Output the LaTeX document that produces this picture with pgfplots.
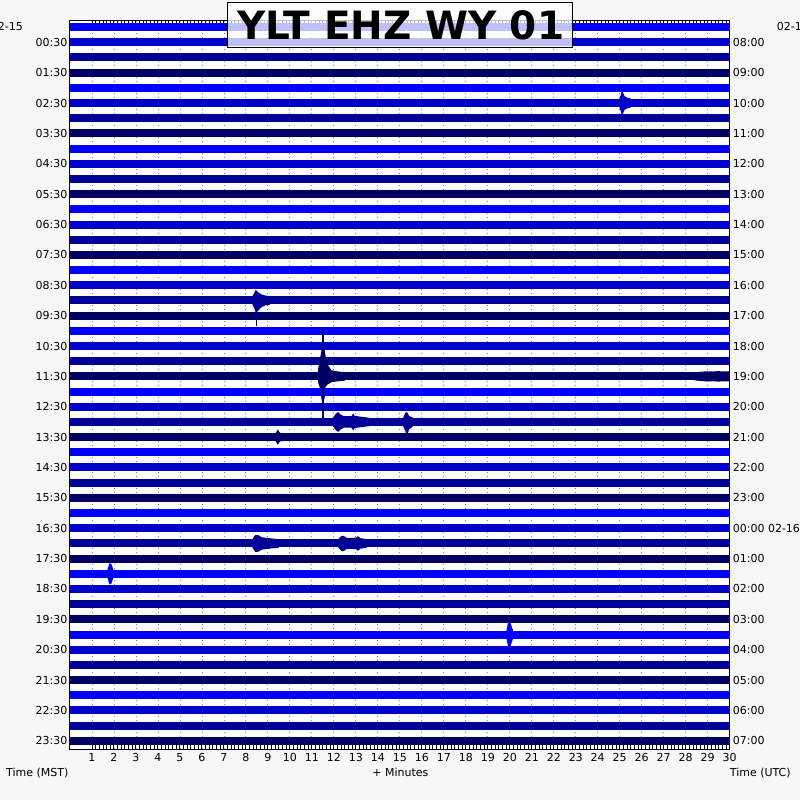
\documentclass[border=0pt]{standalone}
\usepackage{pgfplots}
\pgfplotsset{compat=1.18}
\usetikzlibrary{backgrounds}
\usepackage{fontspec}
\setmainfont{DejaVu Sans}
\definecolor{tc0}{RGB}{0,0,250}
\definecolor{tc1}{RGB}{0,0,205}
\definecolor{tc2}{RGB}{0,0,150}
\definecolor{tc3}{RGB}{0,0,100}
\definecolor{bgc}{RGB}{247,247,247}
\definecolor{gridc}{RGB}{130,130,130}
\newcommand{\lab}{\fontsize{11}{13}\selectfont}
\begin{document}
\begin{tikzpicture}[x=1pt,y=1pt]
\begin{axis}[
  width=660pt, height=729.3pt, scale only axis,
  xmin=0, xmax=30, ymin=-0.42, ymax=47.58, y dir=reverse,
  axis background/.style={fill=white},
  axis line style={black, line width=1pt},
  xtick={1,...,30}, minor x tick num=5,
  xtick pos=both, xticklabel pos=bottom,
  major tick length=4.5pt, minor tick length=4.5pt,
  every tick/.style={black, line width=0.9pt},
  xmajorgrids, major x grid style={gridc, dash pattern=on 1pt off 3pt, line width=0.8pt},
  ytick=\empty,
  minor ytick={0.5,1.5,...,46.5}, yminorgrids,
  minor y grid style={gridc, dash pattern=on 1pt off 3pt, line width=0.8pt},
  minor y tick style={draw=none},
  tick label style={font=\lab},
  /pgf/number format/assume math mode=true,
  clip=false,
  no markers,
  cycle list={{tc0,line width=8pt},{tc1,line width=8pt},{tc2,line width=8pt},{tc3,line width=8pt}},
]
\pgfplotsinvokeforeach{0,...,47}{\addplot coordinates {(0,#1) (30,#1)};}

% trace 5 event
\addplot[fill=tc1,draw=none] coordinates {(24.98,4.72) (25.05,4.45) (25.1,4.15) (25.15,4.3) (25.22,4.55) (25.35,4.66) (25.5,4.7) (25.5,5.3) (25.35,5.34) (25.22,5.45) (25.15,5.7) (25.1,5.85) (25.05,5.55) (24.98,5.28)} -- cycle;
% trace 18 event
\addplot[fill=tc2,draw=none] coordinates {(8.3,17.72) (8.38,17.5) (8.45,17.3) (8.55,17.45) (8.7,17.6) (8.9,17.68) (9.1,17.72) (9.1,18.28) (8.9,18.32) (8.7,18.45) (8.55,18.7) (8.45,18.8) (8.38,18.5) (8.3,18.28)} -- cycle;
\addplot[tc2,line width=1.5pt] coordinates {(8.48,18) (8.48,19.7)};
% trace 24 spike
\addplot[fill=tc0,draw=none] coordinates {(11.38,24.0) (11.45,23.45) (11.55,23.45) (11.65,24.0) (11.55,24.6) (11.45,24.6)} -- cycle;
% trace 23 big event
\addplot[fill=tc3,draw=none] coordinates {(11.5,20.7) (11.42,21.45) (11.33,22.1) (11.28,22.6) (11.26,23.0) (11.3,23.5) (11.38,23.8) (11.55,23.85) (11.7,23.55) (11.9,23.38) (12.2,23.32) (12.5,23.28) (12.5,22.72) (12.2,22.68) (11.9,22.6) (11.75,22.3) (11.63,21.7) (11.56,21.1)} -- cycle;
\addplot[tc3,line width=1.8pt] coordinates {(11.5,19.8) (11.5,25.85)};
\addplot[fill=tc3,draw=none] coordinates {(28.4,22.74) (28.8,22.68) (29.5,22.66) (30,22.68) (30,23.32) (29.5,23.34) (28.8,23.32) (28.4,23.26)} -- cycle;
% trace 26 events
\addplot[fill=tc2,draw=none] coordinates {(11.95,25.72) (12.1,25.45) (12.2,25.35) (12.3,25.5) (12.45,25.62) (12.8,25.62) (12.88,25.45) (12.95,25.6) (13.2,25.65) (13.6,25.72) (13.6,26.28) (13.2,26.35) (12.95,26.4) (12.88,26.55) (12.8,26.38) (12.45,26.38) (12.3,26.5) (12.2,26.65) (12.1,26.55) (11.95,26.28)} -- cycle;
\addplot[fill=tc2,draw=none] coordinates {(15.15,25.72) (15.25,25.4) (15.32,25.35) (15.42,25.6) (15.6,25.72) (15.6,26.28) (15.42,26.5) (15.32,26.95) (15.25,26.6) (15.15,26.28)} -- cycle;
% trace 27 event
\addplot[fill=tc3,draw=none] coordinates {(9.35,26.74) (9.45,26.5) (9.55,26.72) (9.7,26.74) (9.7,27.26) (9.55,27.28) (9.45,27.5) (9.35,27.26)} -- cycle;
% trace 34 events
\addplot[fill=tc2,draw=none] coordinates {(8.3,33.72) (8.42,33.45) (8.55,33.45) (8.75,33.6) (9.1,33.66) (9.5,33.72) (9.5,34.28) (9.1,34.34) (8.75,34.4) (8.55,34.55) (8.42,34.55) (8.3,34.28)} -- cycle;
\addplot[fill=tc2,draw=none] coordinates {(12.2,33.72) (12.35,33.5) (12.45,33.5) (12.6,33.65) (13.0,33.62) (13.1,33.52) (13.2,33.65) (13.5,33.72) (13.5,34.28) (13.2,34.35) (13.1,34.48) (13.0,34.38) (12.6,34.35) (12.45,34.5) (12.35,34.5) (12.2,34.28)} -- cycle;
% trace 36 event
\addplot[fill=tc0,draw=none] coordinates {(1.7,35.74) (1.8,35.3) (1.88,35.35) (1.98,35.74) (1.98,36.26) (1.88,36.65) (1.8,36.7) (1.7,36.26)} -- cycle;
% trace 40 event
\addplot[fill=tc0,draw=none] coordinates {(19.85,39.74) (19.93,39.15) (20.02,39.2) (20.15,39.72) (20.15,40.28) (20.02,40.8) (19.93,40.85) (19.85,40.26)} -- cycle;

\coordinate (BL) at (axis cs:0,47.58);
% left labels
\foreach \i/\t in {1/00:30,3/01:30,5/02:30,7/03:30,9/04:30,11/05:30,13/06:30,15/07:30,17/08:30,19/09:30,21/10:30,23/11:30,25/12:30,27/13:30,29/14:30,31/15:30,33/16:30,35/17:30,37/18:30,39/19:30,41/20:30,43/21:30,45/22:30,47/23:30}
  {\edef\tmp{\noexpand\node[anchor=east,inner sep=0pt,font=\noexpand\lab,xshift=-2.5pt] at (axis cs:0,\i) {\t};}\tmp}
% right labels
\foreach \i/\t in {1/08:00,3/09:00,5/10:00,7/11:00,9/12:00,11/13:00,13/14:00,15/15:00,17/16:00,19/17:00,21/18:00,23/19:00,25/20:00,27/21:00,29/22:00,31/23:00,33/00:00 02-16,35/01:00,37/02:00,39/03:00,41/04:00,43/05:00,45/06:00,47/07:00}
  {\edef\tmp{\noexpand\node[anchor=west,inner sep=0pt,font=\noexpand\lab,xshift=3pt] at (axis cs:30,\i) {\t};}\tmp}
\end{axis}
\begin{scope}[shift={(BL)}, shift={(-70,-50)}]
\begin{scope}[on background layer]
\fill[bgc] (0,0) rectangle (800,800);
\end{scope}
\node[anchor=east,inner sep=0pt,font=\lab,overlay] at (23,773) {02-15};
\node[anchor=west,inner sep=0pt,font=\lab,overlay] at (777,773) {02-15};
\node[anchor=west,inner sep=0pt,font=\lab] at (6,27) {Time (MST)};
\node[inner sep=0pt,font=\lab] at (400.5,27) {+ Minutes};
\node[anchor=west,inner sep=0pt,font=\lab] at (730,27) {Time (UTC)};
\draw[black, line width=1pt, fill=white, fill opacity=0.75] (228,752) rectangle (573,797);
\node[font=\fontsize{39}{39}\selectfont\bfseries] at (401,774.5) {YLT EHZ WY 01};
\end{scope}
\end{tikzpicture}
\end{document}
